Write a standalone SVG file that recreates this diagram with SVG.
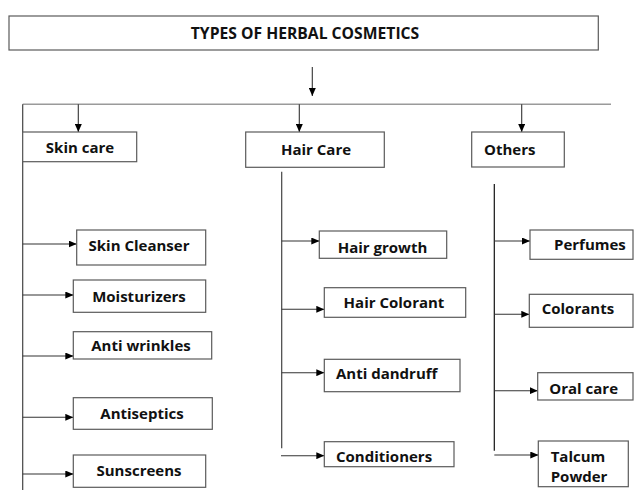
<svg xmlns="http://www.w3.org/2000/svg" width="635" height="490" viewBox="0 0 635 490">
<style>
.box{fill:#fff;stroke:#5a5a5a;stroke-width:1.2}
.t{font-family:"Open Sans","Liberation Sans",sans-serif;font-weight:bold;font-size:15px;fill:#111}
.c{text-anchor:middle}
.ln{stroke:#444;stroke-width:1.2;fill:none}
.ar{stroke:#333;stroke-width:1.1;fill:none;marker-end:url(#ah)}
</style>
<defs>
<marker id="ah" markerUnits="userSpaceOnUse" markerWidth="8" markerHeight="7" refX="8" refY="3.5" orient="auto">
<path d="M0,0 L8,3.5 L0,7 z" fill="#000"/>
</marker>
</defs>
<rect width="635" height="490" fill="#fff"/>
<g id="connectors">
<line class="ln" x1="22.7" y1="104.3" x2="611" y2="104.3" style="stroke:#9a9a9a;stroke-width:1.6"/>
<line class="ln" x1="22.7" y1="104.3" x2="22.7" y2="490"/>
<line class="ln" x1="281.7" y1="171.7" x2="281.7" y2="448.3"/>
<line class="ln" x1="494.3" y1="184" x2="494.3" y2="450.7" style="stroke:#111"/>
<line class="ar" x1="312.3" y1="67" x2="312.3" y2="96"/>
<line class="ar" x1="78.3" y1="104.3" x2="78.3" y2="132"/>
<line class="ar" x1="299.3" y1="104.3" x2="299.3" y2="132"/>
<line class="ar" x1="521.7" y1="104.3" x2="521.7" y2="132"/>
<line class="ar" x1="22.7" y1="244" x2="76.7" y2="244"/>
<line class="ar" x1="22.7" y1="295" x2="73.3" y2="295"/>
<line class="ar" x1="22.7" y1="356" x2="73.3" y2="356"/>
<line class="ar" x1="22.7" y1="417.3" x2="73.3" y2="417.3"/>
<line class="ar" x1="22.7" y1="474" x2="73.3" y2="474"/>
<line class="ar" x1="281.7" y1="241" x2="319.3" y2="241"/>
<line class="ar" x1="281.7" y1="309.3" x2="324.3" y2="309.3"/>
<line class="ar" x1="281.7" y1="372.7" x2="324.3" y2="372.7"/>
<line class="ar" x1="281" y1="455.7" x2="324.3" y2="455.7"/>
<line class="ar" x1="494.3" y1="241" x2="530" y2="241"/>
<line class="ar" x1="494.3" y1="314.3" x2="529.3" y2="314.3"/>
<line class="ar" x1="494.3" y1="390.7" x2="537.7" y2="390.7"/>
<line class="ar" x1="494.3" y1="455" x2="538.3" y2="455"/>
</g>
<g id="title"><rect class="box" x="9" y="16" width="589.3" height="34"/><text class="t c" x="305" y="38.5" style="font-size:15.7px">TYPES OF HERBAL COSMETICS</text></g>
<g id="skin-care"><rect class="box" x="22.7" y="132" width="114" height="29.7"/><text class="t c" x="80" y="152.5">Skin care</text></g>
<g id="hair-care"><rect class="box" x="245.7" y="132" width="138.6" height="35.3"/><text class="t c" x="316" y="155">Hair Care</text></g>
<g id="others"><rect class="box" x="471.7" y="132" width="92.6" height="35"/><text class="t" x="484" y="155">Others</text></g>
<g id="skin-cleanser"><rect class="box" x="76.7" y="230" width="129" height="35"/><text class="t c" x="139" y="251">Skin Cleanser</text></g>
<g id="moisturizers"><rect class="box" x="73.3" y="280" width="132.4" height="32.3"/><text class="t c" x="139" y="302">Moisturizers</text></g>
<g id="anti-wrinkles"><rect class="box" x="73.3" y="331.7" width="138.4" height="27.3"/><text class="t c" x="141" y="351">Anti wrinkles</text></g>
<g id="antiseptics"><rect class="box" x="73.3" y="397.7" width="139" height="31.6"/><text class="t c" x="142" y="419">Antiseptics</text></g>
<g id="sunscreens"><rect class="box" x="73.3" y="455" width="132.4" height="32.3"/><text class="t c" x="139" y="476">Sunscreens</text></g>
<g id="hair-growth"><rect class="box" x="319.3" y="231" width="127.4" height="27.3"/><text class="t c" x="382.5" y="252.5">Hair growth</text></g>
<g id="hair-colorant"><rect class="box" x="324.3" y="287.7" width="141.4" height="29.6"/><text class="t c" x="394" y="308">Hair Colorant</text></g>
<g id="anti-dandruff"><rect class="box" x="324.3" y="359.3" width="135.7" height="32.4"/><text class="t" x="336" y="379">Anti dandruff</text></g>
<g id="conditioners"><rect class="box" x="324.3" y="441.7" width="129.7" height="25"/><text class="t" x="336" y="461.5">Conditioners</text></g>
<g id="perfumes"><rect class="box" x="530" y="230" width="103" height="29.3"/><text class="t" x="554" y="250">Perfumes</text></g>
<g id="colorants"><rect class="box" x="529.3" y="294.3" width="103.7" height="33"/><text class="t" x="541.7" y="314">Colorants</text></g>
<g id="oral-care"><rect class="box" x="537.7" y="372.7" width="95.3" height="27.3"/><text class="t" x="549.3" y="393.5">Oral care</text></g>
<g id="talcum-powder"><rect class="box" x="538.3" y="441" width="90" height="45.7"/><text class="t" x="550.7" y="461.5">Talcum</text><text class="t" x="550.7" y="482">Powder</text></g>
</svg>
